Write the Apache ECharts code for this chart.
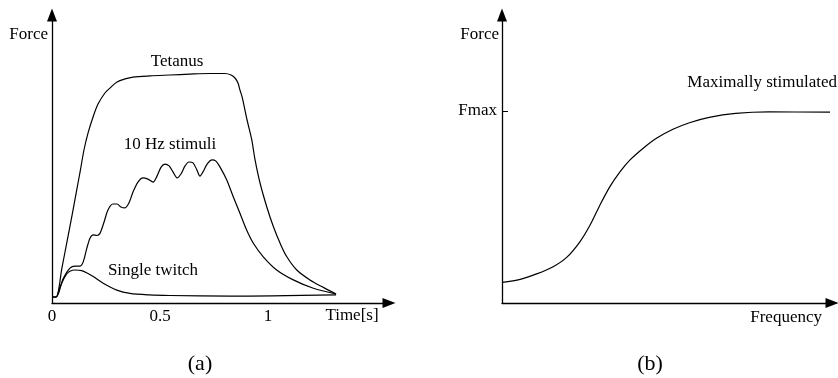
<!DOCTYPE html>
<html>
<head>
<meta charset="utf-8">
<script src="https://cdn.jsdelivr.net/npm/echarts@6/dist/echarts.min.js"></script>
<style>
  html, body { margin: 0; padding: 0; background: #fff; }
  #chart { width: 838px; height: 378px; }
</style>
</head>
<body>
<div id="chart"></div>
<script>
// Panel (a): force over time for three stimulation patterns (arbitrary force units)
const tetanusTime = [0, 0.019, 0.046, 0.069, 0.093, 0.116, 0.130, 0.148, 0.167, 0.190, 0.213, 0.245, 0.269, 0.301, 0.338, 0.375, 0.454, 0.546, 0.639, 0.731, 0.801, 0.829, 0.847, 0.861, 0.870, 0.880, 0.903, 0.925, 0.940, 0.963, 0.994, 1.025, 1.056, 1.087, 1.133, 1.194, 1.256, 1.315];
const tetanusForce = [2, 2, 11.7, 20.3, 29.3, 38.3, 43.7, 51, 56.7, 62, 66.3, 70, 71.7, 73.7, 74.7, 75.3, 75.7, 76, 76.3, 76.5, 76.5, 76, 75, 73.3, 71, 68.7, 61, 54.3, 47.7, 40, 32.1, 25.4, 19.9, 15.4, 11, 7.7, 5.2, 3];

const stim10Time = [0, 0.019, 0.052, 0.083, 0.106, 0.130, 0.145, 0.161, 0.176, 0.191, 0.208, 0.222, 0.241, 0.259, 0.282, 0.301, 0.319, 0.338, 0.356, 0.375, 0.398, 0.421, 0.444, 0.468, 0.486, 0.505, 0.523, 0.542, 0.560, 0.579, 0.597, 0.616, 0.634, 0.653, 0.671, 0.685, 0.699, 0.718, 0.741, 0.759, 0.778, 0.809, 0.839, 0.870, 0.901, 0.932, 0.978, 1.040, 1.117, 1.210, 1.315];
const stim10Force = [2, 2, 8.2, 11.6, 12.3, 12.3, 13.8, 18.2, 21.6, 22.7, 22.5, 23.2, 27, 31, 33, 33, 32, 31.7, 33.3, 37, 40.3, 41.7, 41.3, 40.3, 42.3, 45.3, 46.3, 45.7, 43.7, 41.7, 43, 45.7, 47, 46.7, 44.3, 42.3, 43.7, 46.3, 47.7, 47.3, 45.3, 41, 35.4, 29.9, 24.3, 19.9, 15.4, 11, 7.7, 4.9, 3];

const twitchTime = [0, 0.019, 0.035, 0.052, 0.068, 0.083, 0.106, 0.137, 0.165, 0.191, 0.237, 0.300, 0.361, 0.450, 0.546, 0.824, 1.315];
const twitchForce = [2, 2, 5, 7.7, 9.7, 10.6, 11, 10.8, 9.9, 8.8, 6.6, 4.3, 3.2, 2.7, 2.5, 2.3, 2.7];

const timeTicks = [0, 0.5, 1];

// Panel (b): force against stimulation frequency (arbitrary units)
const freqValues = [0, 5.5, 10.5, 15.5, 19.6, 23.6, 26.7, 29.7, 32.7, 35.8, 38.8, 42.8, 46.8, 51.8, 56.8, 62.8, 70.8, 80.9, 99.4];
const freqForce = [6.9, 7.9, 9.7, 12.1, 15.2, 20.4, 26, 32.7, 38.8, 43.8, 47.7, 51.6, 54.9, 57.9, 60.1, 61.9, 63.2, 63.7, 63.6];
const fmaxValue = 64;

const pairs = (xs, ys) => xs.map((x, i) => [x, ys[i]]);

const FONT = '"Liberation Serif", "Times New Roman", serif';
const INK = '#000';
const SIZE = 17;

const arrowLine = {
  show: true,
  symbol: ['none', 'triangle'],
  symbolSize: [10, 13],
  lineStyle: { color: INK, width: 1.3 }
};

const curveStyle = { color: INK, width: 1.2 };

function curve(name, data, xi) {
  return {
    name, type: 'line', xAxisIndex: xi, yAxisIndex: xi,
    data, showSymbol: false, symbol: 'none', smooth: 0.3,
    lineStyle: curveStyle, silent: true
  };
}

function label(text, x, y, opts) {
  return {
    type: 'text', x, y,
    style: Object.assign({ text, fill: INK, font: SIZE + 'px ' + FONT, textAlign: 'center', textVerticalAlign: 'middle' }, opts || {})
  };
}

const chart = echarts.init(document.getElementById('chart'), null, { renderer: 'canvas' });

chart.setOption({
  animation: false,
  backgroundColor: '#fff',
  grid: [
    { left: 52, top: 15, width: 337, height: 288 },
    { left: 502, top: 15, right: 6, height: 288 }
  ],
  xAxis: [
    {
      gridIndex: 0, type: 'value', min: 0, max: 1.56,
      axisLine: arrowLine, splitLine: { show: false }, axisTick: { show: false },
      axisLabel: {
        customValues: timeTicks, margin: 5, color: INK, fontFamily: FONT, fontSize: SIZE,
        formatter: v => String(v)
      }
    },
    {
      gridIndex: 1, type: 'value', min: 0, max: 100,
      axisLine: arrowLine, splitLine: { show: false }, axisTick: { show: false },
      axisLabel: { show: false }
    }
  ],
  yAxis: [
    {
      gridIndex: 0, type: 'value', min: 0, max: 96,
      axisLine: arrowLine, splitLine: { show: false }, axisTick: { show: false },
      axisLabel: { show: false }
    },
    {
      gridIndex: 1, type: 'value', min: 0, max: 96,
      axisLine: arrowLine, splitLine: { show: false },
      axisTick: { show: true, inside: true, length: 6, customValues: [fmaxValue], lineStyle: { color: INK, width: 1 } },
      axisLabel: {
        customValues: [fmaxValue], margin: 5, color: INK, fontFamily: FONT, fontSize: SIZE,
        formatter: () => 'Fmax'
      }
    }
  ],
  series: [
    curve('Tetanus', pairs(tetanusTime, tetanusForce), 0),
    curve('10 Hz stimuli', pairs(stim10Time, stim10Force), 0),
    curve('Single twitch', pairs(twitchTime, twitchForce), 0),
    curve('Maximally stimulated', pairs(freqValues, freqForce), 1)
  ],
  graphic: [
    label('Force', 48, 35, { textAlign: 'right' }),
    label('Tetanus', 177, 62),
    label('10 Hz stimuli', 170, 145),
    label('Single twitch', 153, 271),
    label('Time[s]', 352, 316),
    label('(a)', 200, 364, { font: '22px ' + FONT }),
    label('Force', 499, 35, { textAlign: 'right' }),
    label('Maximally stimulated', 837, 83, { textAlign: 'right' }),
    label('Frequency', 822, 318, { textAlign: 'right' }),
    label('(b)', 650, 364, { font: '22px ' + FONT })
  ]
});
</script>
</body>
</html>
